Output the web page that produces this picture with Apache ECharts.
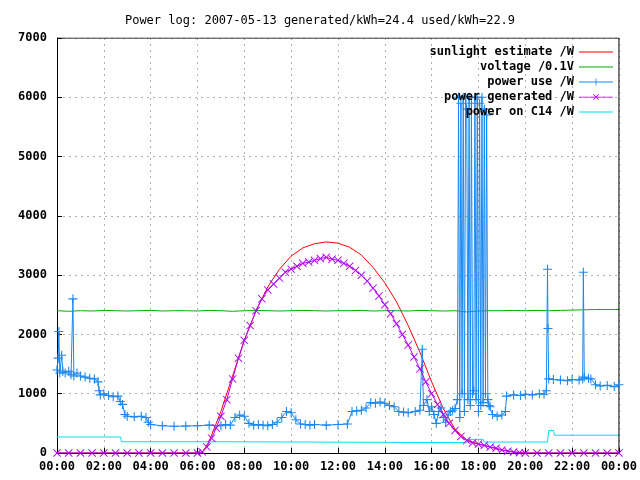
<!DOCTYPE html>
<html><head><meta charset="utf-8">
<script src="https://cdn.jsdelivr.net/npm/echarts@6/dist/echarts.min.js"></script>
<style>html,body{margin:0;background:#fff}#c{width:640px;height:480px}</style>
</head><body><div id="c"></div>
<script>
// time in hours since 00:00, value in W (voltage in 0.1 V)
const xTicks = ['00:00','02:00','04:00','06:00','08:00','10:00','12:00','14:00','16:00','18:00','20:00','22:00','00:00'];

const sunlight = [[0,0],[3,0],[6.2,0],[6.5,200],[7,700],[7.5,1300],[8,1900],[8.5,2400],[9,2800],[9.5,3100],[10,3320],[10.5,3460],[11,3530],[11.5,3560],[12,3540],[12.5,3470],[13,3340],[13.5,3130],[14,2870],[14.5,2550],[15,2150],[15.5,1700],[16,1200],[16.5,750],[17,400],[17.5,220],[18,150],[18.5,100],[19,50],[19.5,20],[20,0],[24,0]];

const voltage = [[0,2400],[0.5,2390],[1,2400],[1.5,2395],[2,2405],[2.5,2400],[3,2395],[3.5,2400],[4,2405],[4.5,2395],[5,2400],[5.5,2400],[6,2395],[6.5,2405],[7,2400],[7.5,2390],[8,2400],[8.5,2405],[9,2400],[9.5,2395],[10,2400],[10.5,2405],[11,2400],[11.5,2395],[12,2400],[12.5,2400],[13,2405],[13.5,2395],[14,2400],[14.5,2400],[15,2395],[15.5,2405],[16,2400],[16.5,2395],[17,2400],[17.5,2380],[18,2395],[18.5,2400],[19,2400],[19.5,2405],[20,2400],[20.5,2405],[21,2400],[21.5,2405],[22,2410],[22.5,2415],[23,2420],[23.5,2420],[24,2420]];

const powerUse = [[0,1400],[0.05,1600],[0.08,2050],[0.12,1350],[0.2,1650],[0.25,1380],[0.35,1350],[0.5,1380],[0.6,1320],[0.68,2600],[0.72,1300],[0.85,1350],[1.0,1300],[1.2,1280],[1.4,1260],[1.6,1250],[1.75,1200],[1.8,1050],[1.85,980],[2.0,1000],[2.2,970],[2.4,950],[2.6,960],[2.7,870],[2.8,820],[2.9,650],[3.0,620],[3.3,610],[3.6,620],[3.8,600],[3.9,520],[4.0,480],[4.5,460],[5.0,450],[5.5,455],[6.0,460],[6.5,470],[7.0,460],[7.2,480],[7.4,470],[7.6,600],[7.8,640],[8.0,620],[8.2,500],[8.4,470],[8.6,480],[8.8,470],[9.0,460],[9.2,480],[9.4,520],[9.6,600],[9.8,700],[10.0,680],[10.2,560],[10.4,490],[10.6,480],[10.8,470],[11.0,480],[11.5,470],[12.0,480],[12.4,490],[12.6,700],[12.8,710],[13.0,720],[13.2,760],[13.4,850],[13.6,840],[13.8,860],[14.0,840],[14.2,800],[14.4,780],[14.6,700],[14.8,690],[15.0,680],[15.3,700],[15.5,720],[15.6,1750],[15.65,800],[15.8,900],[15.9,700],[16.0,780],[16.1,650],[16.2,500],[16.3,700],[16.4,760],[16.5,600],[16.6,520],[16.7,640],[16.8,700],[16.9,720],[17.0,750],[17.1,900],
 [17.15,6000],[17.2,600],[17.25,5900],[17.3,1000],[17.35,6000],[17.4,700],[17.45,6000],[17.5,5800],[17.55,900],[17.6,6000],[17.65,800],[17.7,5900],[17.75,1000],[17.8,1050],[17.85,6000],[17.9,900],[17.95,6000],[18.0,700],[18.05,5900],[18.1,800],[18.15,6000],[18.2,850],[18.25,5800],[18.3,1000],[18.35,5700],[18.4,900],
 [18.45,800],[18.5,780],[18.6,650],[18.8,620],[19.0,640],[19.15,700],[19.2,960],[19.5,980],[19.8,970],[20.0,990],[20.3,980],[20.6,1000],[20.8,990],[20.9,1050],[20.95,3100],[20.97,2100],[21.0,1250],[21.2,1240],[21.5,1230],[21.8,1220],[22.0,1240],[22.3,1230],[22.45,1250],[22.48,3050],[22.52,1280],[22.7,1260],[22.8,1250],[23.0,1150],[23.2,1130],[23.5,1140],[23.8,1120],[24,1150]];

const powerGen = [[0,0],[0.5,0],[1,0],[1.5,0],[2,0],[2.5,0],[3,0],[3.5,0],[4,0],[4.5,0],[5,0],[5.5,0],[6.0,0],[6.2,20],[6.4,100],[6.6,250],[6.8,420],[7.0,620],[7.25,900],[7.5,1250],[7.75,1600],[8.0,1900],[8.25,2150],[8.5,2400],[8.75,2600],[9.0,2750],[9.25,2850],[9.5,2950],[9.75,3050],[10.0,3100],[10.25,3150],[10.5,3200],[10.75,3220],[11.0,3250],[11.25,3280],[11.5,3300],[11.75,3270],[12.0,3250],[12.25,3200],[12.5,3150],[12.75,3080],[13.0,3000],[13.25,2900],[13.5,2780],[13.75,2650],[14.0,2500],[14.25,2350],[14.5,2180],[14.75,2000],[15.0,1820],[15.25,1620],[15.5,1420],[15.75,1200],[16.0,1000],[16.25,820],[16.5,650],[16.75,500],[17.0,380],[17.25,280],[17.5,210],[17.75,170],[18.0,150],[18.25,130],[18.5,100],[18.75,80],[19.0,50],[19.25,30],[19.5,15],[19.75,5],[20,0],[20.5,0],[21,0],[21.5,0],[22,0],[22.5,0],[23,0],[23.5,0],[24,0]];

const powerC14 = [[0,270],[2.72,270],[2.75,190],[7.2,190],[7.25,175],[17.5,175],[17.55,230],[18.2,230],[18.25,185],[20.95,185],[21.0,380],[21.2,380],[21.25,300],[24,300]];

const FONT = '"DejaVu Sans Mono", monospace';
const PLUS = 'path://M0,4.4H10V5.6H0ZM4.4,0H5.6V10H4.4Z';
const CROSS = 'path://M0.8,0L5,4.2L9.2,0L10,0.8L5.8,5L10,9.2L9.2,10L5,5.8L0.8,10L0,9.2L4.2,5L0,0.8Z';
const ICON_LINE = 'path://M0,4.5H40V5.5H0Z';
const ICON_PLUS = 'path://M0,4.5H40V5.5H0ZM19.5,1H20.5V9H19.5Z';
const ICON_CROSS = 'path://M0,4.5H40V5.5H0ZM16.5,2L17.2,1.3L20,4.1L22.8,1.3L23.5,2L20.7,4.8L23.5,7.6L22.8,8.3L20,5.5L17.2,8.3L16.5,7.6L19.3,4.8Z';

const chart = echarts.init(document.getElementById('c'));
const line = (name, data, color, extra) => Object.assign({
  name, type: 'line', data, showSymbol: false, symbol: 'none',
  lineStyle: { color, width: 1 }, itemStyle: { color }, animation: false
}, extra || {});

chart.setOption({
  animation: false,
  title: { text: 'Power log: 2007-05-13 generated/kWh=24.4 used/kWh=22.9', left: 'center', top: 10,
    textStyle: { fontFamily: FONT, fontSize: 12, fontWeight: 'normal', color: '#000' } },
  grid: { left: 57, right: 19, top: 38, bottom: 27 },
  legend: {
    orient: 'vertical', right: 22, top: 41, align: 'right', itemGap: 3, itemWidth: 34, itemHeight: 9,
    textStyle: { fontFamily: FONT, fontSize: 12, fontWeight: 'bold', color: '#000' },
    data: [
      { name: 'sunlight estimate /W', icon: ICON_LINE },
      { name: 'voltage /0.1V', icon: ICON_LINE },
      { name: 'power use /W', icon: ICON_PLUS },
      { name: 'power generated /W', icon: ICON_CROSS },
      { name: 'power on C14 /W', icon: ICON_LINE }
    ]
  },
  xAxis: {
    type: 'value', min: 0, max: 24, interval: 2,
    axisLine: { lineStyle: { color: '#000' } }, axisTick: { inside: true, length: 5, lineStyle: { color: '#000' } },
    axisLabel: { fontFamily: FONT, fontSize: 12, fontWeight: 'bold', color: '#000', formatter: (v) => xTicks[v / 2] },
    splitLine: { show: true, lineStyle: { color: '#b0b0b0', type: [2, 4] } }
  },
  yAxis: {
    type: 'value', min: 0, max: 7000, interval: 1000,
    axisLine: { show: true, lineStyle: { color: '#000' } }, axisTick: { show: true, inside: true, length: 5, lineStyle: { color: '#000' } },
    axisLabel: { fontFamily: FONT, fontSize: 12, fontWeight: 'bold', color: '#000', margin: 10, formatter: (v) => String(v) },
    splitLine: { show: true, lineStyle: { color: '#b0b0b0', type: [2, 4] } }
  },
  series: [
    line('sunlight estimate /W', sunlight, '#ff0000'),
    line('voltage /0.1V', voltage, '#00b000'),
    line('power use /W', powerUse, '#1a88f0', { showSymbol: true, symbol: PLUS, symbolSize: 9 }),
    line('power generated /W', powerGen, '#b000ff', { showSymbol: true, symbol: CROSS, symbolSize: 8 }),
    line('power on C14 /W', powerC14, '#00e0f0'),
    { type: 'line', data: [[24, 0], [24, 7000]], symbol: 'none', lineStyle: { color: '#000', width: 1 }, silent: true, animation: false },
    { type: 'line', data: [[0, 7000], [24, 7000]], symbol: 'none', lineStyle: { color: '#000', width: 1 }, silent: true, animation: false }
  ]
});
</script></body></html>
